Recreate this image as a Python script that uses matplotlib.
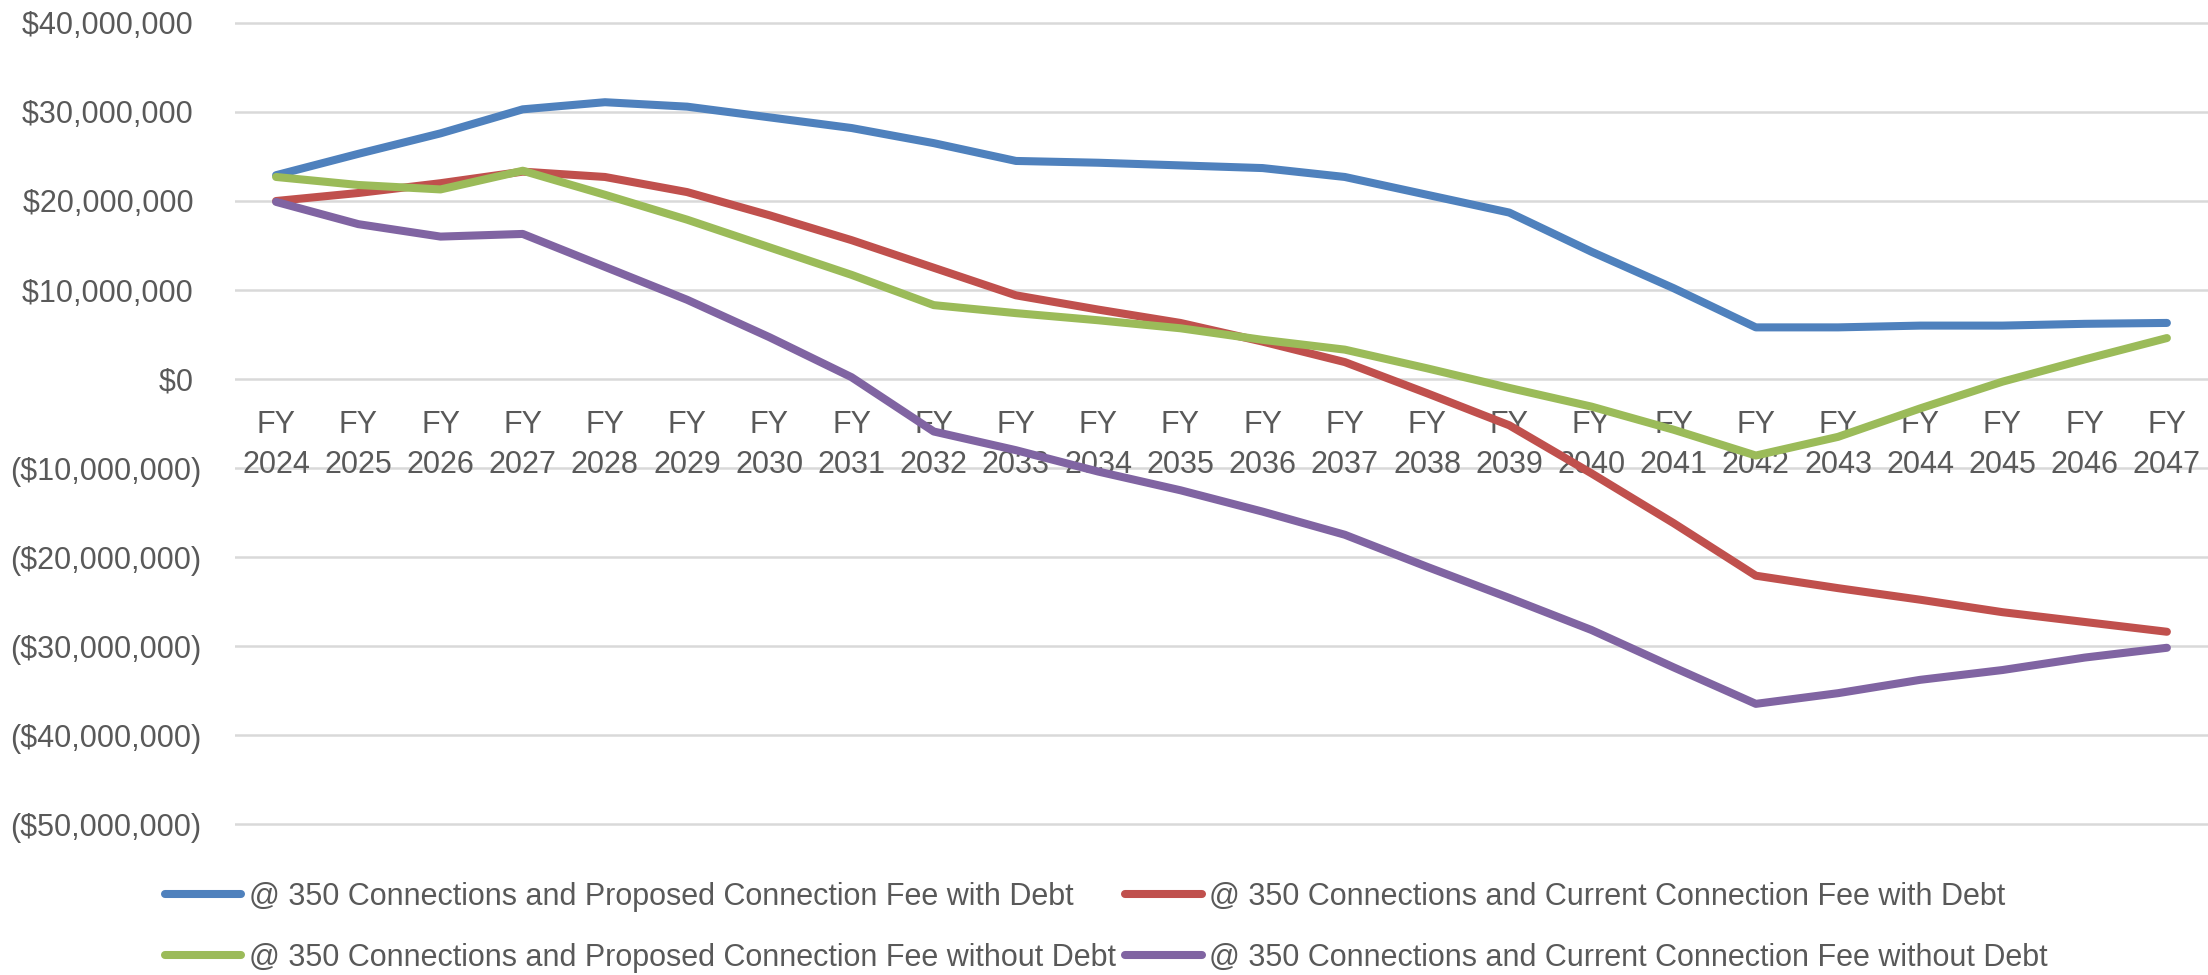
import matplotlib.pyplot as plt
from matplotlib.ticker import FuncFormatter

plt.rcParams['font.family'] = ['Liberation Sans', 'DejaVu Sans']

# DATA
years = [str(y) for y in range(2024, 2048)]

proposed_with_debt = [22.9, 25.3, 27.6, 30.3, 31.1, 30.6, 29.4, 28.2, 26.5, 24.5, 24.3, 24.0,
                      23.7, 22.7, 20.7, 18.7, 14.3, 10.2, 5.8, 5.8, 6.0, 6.0, 6.2, 6.3]
current_with_debt = [20.0, 20.9, 22.0, 23.3, 22.7, 21.0, 18.4, 15.6, 12.5, 9.4, 7.8, 6.3,
                     4.2, 1.9, -1.6, -5.2, -10.6, -16.2, -22.1, -23.5, -24.8, -26.2, -27.3, -28.4]
proposed_without_debt = [22.7, 21.8, 21.3, 23.4, 20.7, 17.9, 14.8, 11.7, 8.3, 7.4, 6.6, 5.7,
                         4.4, 3.3, 1.2, -1.0, -3.1, -5.7, -8.6, -6.5, -3.3, -0.3, 2.2, 4.6]
current_without_debt = [19.9, 17.4, 16.0, 16.3, 12.6, 8.9, 4.7, 0.2, -5.9, -8.0, -10.4, -12.5,
                        -14.9, -17.5, -21.1, -24.6, -28.2, -32.4, -36.5, -35.3, -33.8, -32.7, -31.3, -30.2]

series_names = [
    "@ 350 Connections and Proposed Connection Fee with Debt",
    "@ 350 Connections and Current Connection Fee with Debt",
    "@ 350 Connections and Proposed Connection Fee without Debt",
    "@ 350 Connections and Current Connection Fee without Debt",
]
series_values = [proposed_with_debt, current_with_debt, proposed_without_debt, current_without_debt]
series_colors = ["#4F81BD", "#C0504D", "#9BBB59", "#8064A2"]

y_ticks = list(range(-50, 41, 10))

TEXT = "#595959"
FS = 22


def money(v, pos):
    v = int(round(v))
    if v < 0:
        return "(${:,})".format(-v * 1000000)
    return "${:,} ".format(v * 1000000)


fig = plt.figure(figsize=(22.08, 9.75), dpi=100)
ax = fig.add_axes([235 / 2208, 0.14574, 1 - 235 / 2208, 0.8398])

x = list(range(len(years)))
lines = []
for name, vals, col in zip(series_names, series_values, series_colors):
    ln, = ax.plot(x, vals, color=col, lw=5.8, label=name, zorder=3,
                  solid_capstyle='round', solid_joinstyle='round')
    lines.append(ln)

ax.set_xlim(-0.5, len(years) - 0.5)
ax.set_ylim(-51, 41)
ax.set_yticks(y_ticks)
ax.yaxis.set_major_formatter(FuncFormatter(money))
ax.tick_params(axis='y', length=0, pad=24, labelsize=FS, labelcolor=TEXT)
ax.set_xticks([])
ax.grid(axis='y', color='#D9D9D9', lw=1.8)
ax.set_axisbelow(True)
for s in ax.spines.values():
    s.set_visible(False)

# category labels sit at the zero line like in Excel
for i, yr in enumerate(years):
    ax.text(i, -6.07, "FY", ha='center', va='baseline', fontsize=FS, color=TEXT, zorder=1)
    ax.text(i, -10.56, yr, ha='center', va='baseline', fontsize=FS, color=TEXT, zorder=1)

# legend fills column-first, so order handles to read row by row
order = [0, 2, 1, 3]
fig.legend(handles=[lines[i] for i in order], ncol=2, loc='upper left',
           bbox_to_anchor=(165 / 2208, 1 - 882 / 975),
           frameon=False, fontsize=FS, labelcolor=TEXT, handlelength=2.5, handletextpad=0.25,
           columnspacing=0.3, labelspacing=1.0, borderpad=0, borderaxespad=0)

fig.savefig("out.png", dpi=100)
